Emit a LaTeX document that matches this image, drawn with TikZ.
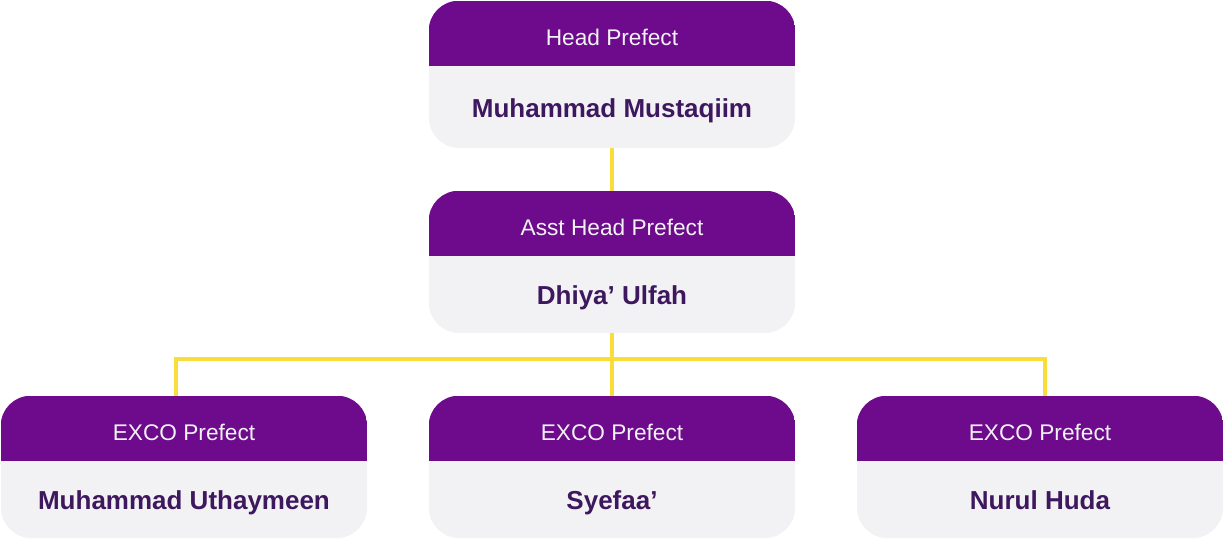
\documentclass[tikz,border=0pt]{standalone}
\usepackage{fontspec}
\setmainfont{Liberation Sans}
\usetikzlibrary{positioning,backgrounds}
\definecolor{headpurple}{RGB}{110,11,140}
\definecolor{cardgrey}{RGB}{242,242,244}
\definecolor{nameink}{RGB}{62,24,94}
\definecolor{linkyellow}{RGB}{249,221,58}
\begin{document}
\begin{tikzpicture}[x=0.75pt,y=0.75pt,
    card/.style={fill=cardgrey, rounded corners=22.5pt, minimum width=274.5pt, inner sep=0pt},
    titletext/.style={text=cardgrey, font=\fontsize{17}{20}\selectfont, text height=12.4pt, text depth=3.6pt},
    persontext/.style={text=nameink, font=\fontsize{19.5}{23}\selectfont\bfseries, text height=14.2pt, text depth=4.1pt},
    link/.style={draw=linkyellow, line width=3pt}]
    \useasboundingbox (0,0) rectangle (1224,539);
    \foreach \name/\cx/\top/\h/\title/\person in {
        head/612/1/147/Head Prefect/Muhammad Mustaqiim,
        asst/612/191/142/Asst Head Prefect/Dhiya’ Ulfah,
        excoa/184/396/142/EXCO Prefect/Muhammad Uthaymeen,
        excob/612/396/142/EXCO Prefect/Syefaa’,
        excoc/1040/396/142/EXCO Prefect/Nurul Huda} {
        \node[card, minimum height=\h*0.75pt] (\name) at (\cx,539-\top-\h/2) {};
        \begin{scope}
            \clip[rounded corners=22.5pt] (\name.south west) rectangle (\name.north east);
            \fill[headpurple] (\name.north west) rectangle ([yshift=-48.75pt]\name.north east);
        \end{scope}
        \node[titletext] (\name-title) at ([yshift=-29pt]\name.north) {\title};
        \node[persontext] (\name-person) at ([yshift=(\h-65)*0.375pt-2.5pt]\name.south) {\person};
    }
    % yellow connectors behind the cards
    \begin{scope}[on background layer]
        \coordinate (bus) at (612,180);
        \draw[link] (head.south) -- (asst.north);
        \draw[link] (asst.south) -- (bus);
        \draw[link] (bus) -| ([xshift=-6pt]excoa.north);
        \draw[link] (bus) -- (excob.north);
        \draw[link] (bus) -| ([xshift=3.75pt]excoc.north);
    \end{scope}
\end{tikzpicture}
\end{document}
